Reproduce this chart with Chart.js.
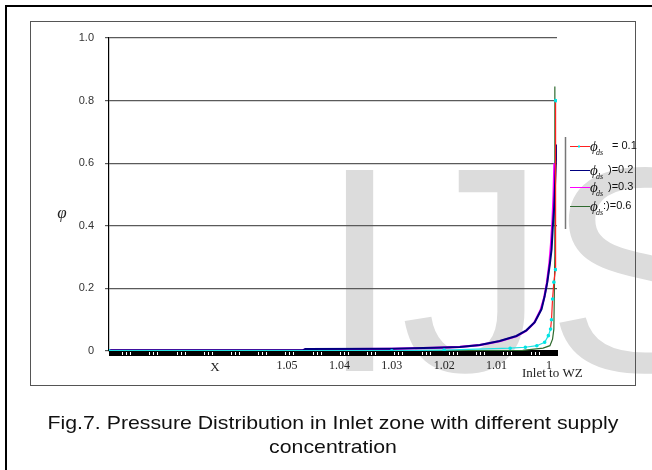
<!DOCTYPE html>
<html>
<head>
<meta charset="utf-8">
<script src="https://cdn.jsdelivr.net/npm/chart.js@4/dist/chart.umd.min.js"></script>
<style>
  body { margin: 0; background: #fff; }
  #wrap { position: relative; width: 652px; height: 470px; }
</style>
</head>
<body>
<div id="wrap"><canvas id="pressureChart" width="652" height="470"></canvas></div>
<script>
// tick values
const xTicks = [1, 1.01, 1.02, 1.03, 1.04, 1.05];
const yTicks = [0, 0.2, 0.4, 0.6, 0.8, 1.0];

// legend text for each supply concentration
const seriesLabels = ["= 0.1", ")=0.2", ")=0.3", ":)=0.6"];

// phi_ds = 0.1
const xPhi01 = [1.084, 1.03, 1.02, 1.0074, 1.0045, 1.0023, 1.0008, 1.0001, 0.99968, 0.9995, 0.9993, 0.99905, 0.99875, 0.99872];
const yPhi01 = [0.001, 0.001, 0.003, 0.009, 0.012, 0.017, 0.028, 0.049, 0.07, 0.10, 0.166, 0.22, 0.26, 0.80];

// phi_ds = 0.2
const xPhi02 = [1.084, 1.047, 1.0465, 1.03, 1.022, 1.017, 1.0132, 1.0094, 1.0062, 1.0043, 1.0027, 1.0014, 1.0008, 1.0003, 0.9998, 0.99948, 0.99924, 0.99899, 0.99853];
const yPhi02 = [0.002, 0.002, 0.006, 0.007, 0.010, 0.013, 0.019, 0.032, 0.048, 0.066, 0.092, 0.134, 0.176, 0.22, 0.28, 0.325, 0.40, 0.46, 0.66];

// phi_ds = 0.3
const xPhi03 = [1.084, 1.047, 1.0465, 1.03, 1.022, 1.017, 1.0132, 1.0094, 1.0062, 1.0043, 1.0028, 1.0016, 1.0009, 1.0004, 0.9999, 0.9996, 0.9993, 0.9991, 0.99895];
const yPhi03 = [0.002, 0.002, 0.005, 0.007, 0.010, 0.013, 0.019, 0.031, 0.047, 0.065, 0.090, 0.130, 0.170, 0.215, 0.28, 0.34, 0.42, 0.50, 0.60];

// phi_ds = 0.6
const xPhi06 = [1.084, 1.005, 1.0011, 0.9998, 0.9993, 0.99905, 0.99887, 0.99886];
const yPhi06 = [0.0, 0.002, 0.009, 0.017, 0.038, 0.07, 0.30, 0.845];

document.addEventListener("DOMContentLoaded", function () {
  function toPoints(xs, ys) {
    return xs.map((x, i) => ({ x: x, y: ys[i] }));
  }

  const sans = '"Liberation Sans", Arial, sans-serif';
  const serif = '"Liberation Serif", "Times New Roman", serif';

  const datasets = [
    { label: seriesLabels[0], data: toPoints(xPhi01, yPhi01), borderColor: "#ff2020", borderWidth: 1.2,
      pointRadius: 1.2, pointBackgroundColor: "#00e5e5", pointBorderColor: "#00e5e5", order: 1,
      segment: { borderColor: c => c.p1.parsed.y < 0.075 ? "#20e0e0" : "#ff2020" } },
    { label: seriesLabels[1], data: toPoints(xPhi02, yPhi02), borderColor: "#000080", borderWidth: 2,
      pointRadius: 0, order: 2 },
    { label: seriesLabels[2], data: toPoints(xPhi03, yPhi03), borderColor: "#ff00ff", borderWidth: 2.2,
      pointRadius: 0, order: 3 },
    { label: seriesLabels[3], data: toPoints(xPhi06, yPhi06), borderColor: "#2f6b2f", borderWidth: 1.2,
      pointRadius: 0, order: 4 }
  ];

  // watermark, boxes, thick x bar, labels, legend and caption
  const decor = {
    id: "decor",
    beforeDraw(chart) {
      const ctx = chart.ctx;
      ctx.save();
      ctx.fillStyle = "#dcdcdc";
      ctx.font = "292px " + sans;
      ctx.textBaseline = "alphabetic";
      ctx.fillText("IJS", 319, 371);
      ctx.restore();
    },
    beforeDatasetsDraw(chart) {
      const ctx = chart.ctx;
      const a = chart.chartArea;
      const xs = chart.scales.x;
      ctx.save();
      ctx.fillStyle = "#000";
      ctx.fillRect(a.left, a.bottom - 1, a.right - a.left + 1, 6);
      // small light tick groups along the thick axis bar
      ctx.fillStyle = "#fff";
      for (let v = 1.0815; v > 1.0; v -= 0.0052) {
        const px = Math.round(xs.getPixelForValue(v));
        [0, 4, 8].forEach(d => ctx.fillRect(px + d, a.bottom + 1, 1, 3));
      }
      ctx.restore();
    },
    afterDraw(chart) {
      const ctx = chart.ctx;
      ctx.save();
      // outer page border
      ctx.fillStyle = "#000";
      ctx.fillRect(5, 5, 647, 2);
      ctx.fillRect(5, 5, 2, 465);
      // inner figure box
      ctx.strokeStyle = "#555";
      ctx.lineWidth = 1;
      ctx.strokeRect(30.5, 21.5, 605, 364);

      // axis titles
      ctx.fillStyle = "#222";
      ctx.textAlign = "center";
      ctx.textBaseline = "middle";
      ctx.font = "italic 17px " + serif;
      ctx.fillText("φ", 62, 214);
      ctx.font = "13px " + serif;
      ctx.fillText("X", 215, 368);
      ctx.textAlign = "left";
      ctx.fillText("Inlet to WZ", 522, 374);

      // legend
      ctx.strokeStyle = "#777";
      ctx.lineWidth = 1.5;
      ctx.beginPath();
      ctx.moveTo(565.5, 137);
      ctx.lineTo(565.5, 229);
      ctx.stroke();
      const rows = [146, 170, 187, 206];
      const textX = [612, 608, 608, 603];
      chart.data.datasets.forEach((ds, i) => {
        const y = rows[i];
        ctx.strokeStyle = ds.borderColor;
        ctx.lineWidth = 1;
        ctx.beginPath();
        ctx.moveTo(570, y + 0.5);
        ctx.lineTo(590, y + 0.5);
        ctx.stroke();
        if (i === 0) {
          ctx.fillStyle = "#00e5e5";
          ctx.fillRect(578, y - 0.5, 2, 2);
        }
        ctx.fillStyle = "#111";
        ctx.textBaseline = "alphabetic";
        ctx.font = "italic 15px " + serif;
        ctx.fillText("ϕ", 590, y + 5);
        ctx.font = "italic 8px " + serif;
        ctx.fillText("ds", 596, y + 9);
        ctx.font = "11px " + sans;
        ctx.textBaseline = "middle";
        ctx.fillText(ds.label, textX[i], y);
      });

      // caption
      ctx.fillStyle = "#111";
      ctx.textAlign = "center";
      ctx.textBaseline = "middle";
      ctx.font = "19px " + sans;
      [["Fig.7. Pressure Distribution in Inlet zone with different supply", 424],
       ["concentration", 448]].forEach(([t, y]) => {
        ctx.save();
        ctx.translate(333, y);
        ctx.scale(1.12, 1);
        ctx.fillText(t, 0, 0);
        ctx.restore();
      });
      ctx.restore();
    }
  };

  new Chart(document.getElementById("pressureChart"), {
    type: "line",
    data: { datasets: datasets },
    options: {
      responsive: false,
      animation: false,
      layout: { padding: { top: 38, right: 95, left: 0, bottom: 0 } },
      plugins: { legend: { display: false }, tooltip: { enabled: false } },
      elements: { line: { tension: 0 } },
      scales: {
        x: {
          type: "linear",
          reverse: true,
          min: 0.99845,
          max: 1.084,
          afterBuildTicks: s => { s.ticks = xTicks.map(v => ({ value: v })); },
          afterFit: s => { s.height = 119; },
          grid: { display: false, drawTicks: false },
          border: { display: false },
          ticks: {
            autoSkip: false, maxRotation: 0, padding: 8, color: "#222",
            font: { family: serif, size: 12 },
            callback: v => String(+Number(v).toFixed(2))
          }
        },
        y: {
          min: 0,
          max: 1,
          afterBuildTicks: s => { s.ticks = yTicks.map(v => ({ value: v })); },
          afterFit: s => { s.width = 109; },
          grid: { color: "#5a5a5a", lineWidth: 1.2, tickLength: 4 },
          border: { color: "#000", width: 1.2 },
          ticks: {
            padding: 11, color: "#333",
            font: { family: sans, size: 11 },
            callback: v => v === 0 ? "0" : Number(v).toFixed(1)
          }
        }
      }
    },
    plugins: [decor]
  });
});
</script>
</body>
</html>
